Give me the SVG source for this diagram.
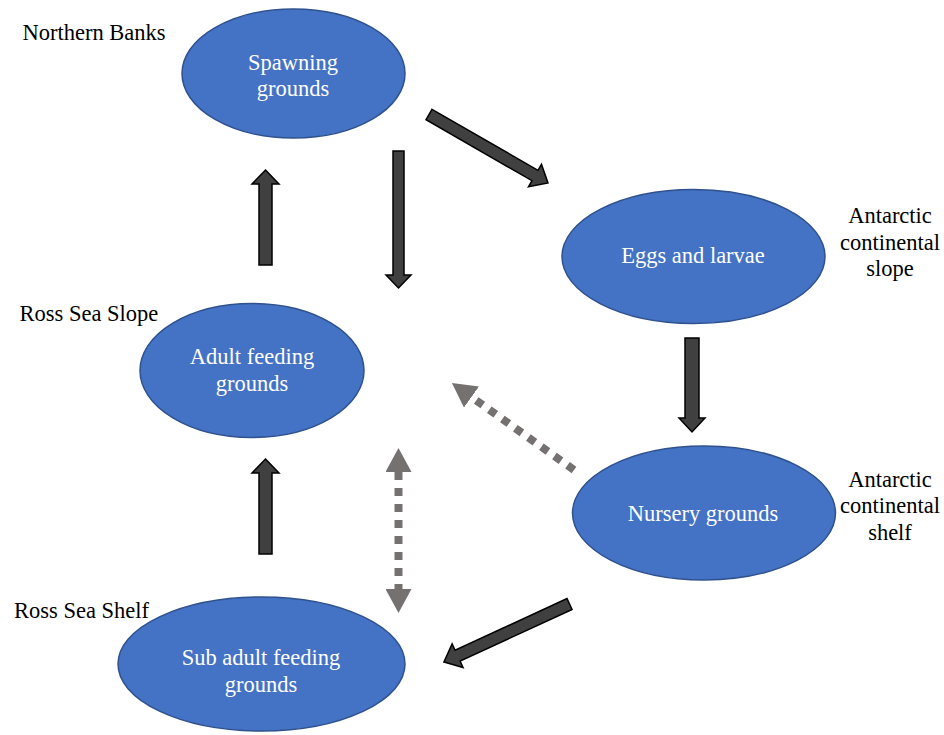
<svg xmlns="http://www.w3.org/2000/svg" width="944" height="735" viewBox="0 0 944 735">
<style>
.node{fill:#4472C4;stroke:#2F528F;stroke-width:1.5}
.nt{font-family:"Liberation Serif","Times New Roman",serif;font-size:22.5px;fill:#FFFFFF;text-anchor:middle}
.lbl{font-family:"Liberation Serif","Times New Roman",serif;font-size:22.5px;fill:#000000}
.blk{fill:#404040;stroke:#000000;stroke-width:1.5;stroke-linejoin:miter}
.dot{stroke:#767171;stroke-width:8;stroke-dasharray:8 8;fill:none}
</style>
<defs>
<marker id="gh" markerUnits="userSpaceOnUse" markerWidth="24" markerHeight="26" viewBox="0 0 24 26" refX="0" refY="13" orient="auto-start-reverse">
<path d="M0,0 L24,13 L0,26 z" fill="#767171"/>
</marker>
</defs>
<rect width="944" height="735" fill="#FFFFFF"/>

<g id="spawning">
<ellipse class="node" cx="293.5" cy="73.5" rx="111.5" ry="64.5"/>
<text class="nt" x="293" y="70">Spawning</text>
<text class="nt" x="293" y="96">grounds</text>
</g>
<g id="eggs">
<ellipse class="node" cx="693.5" cy="256.5" rx="131.5" ry="67"/>
<text class="nt" x="693" y="263">Eggs and larvae</text>
</g>
<g id="adult">
<ellipse class="node" cx="252" cy="370.5" rx="112" ry="67"/>
<text class="nt" x="252" y="364">Adult feeding</text>
<text class="nt" x="252" y="391">grounds</text>
</g>
<g id="nursery">
<ellipse class="node" cx="704" cy="513" rx="131.5" ry="67"/>
<text class="nt" x="703" y="521">Nursery grounds</text>
</g>
<g id="subadult">
<ellipse class="node" cx="261.5" cy="664" rx="143.5" ry="67"/>
<text class="nt" x="261" y="665">Sub adult feeding</text>
<text class="nt" x="261" y="692">grounds</text>
</g>

<g id="labels">
<text class="lbl" x="22.5" y="40">Northern Banks</text>
<text class="lbl" x="19.5" y="321">Ross Sea Slope</text>
<text class="lbl" x="14" y="618">Ross Sea Shelf</text>
<text class="lbl" x="890" y="223" text-anchor="middle">Antarctic</text>
<text class="lbl" x="890" y="250" text-anchor="middle">continental</text>
<text class="lbl" x="890" y="276" text-anchor="middle">slope</text>
<text class="lbl" x="890" y="487" text-anchor="middle">Antarctic</text>
<text class="lbl" x="890" y="513" text-anchor="middle">continental</text>
<text class="lbl" x="890" y="540" text-anchor="middle">shelf</text>
</g>

<g id="connectors">
<polygon class="blk" points="265.5,170 279,184 272,184 272,265 259,265 259,184 252,184"/>
<polygon class="blk" points="393,151 404,151 404,275 411,275 398.5,288 386,275 393,275"/>
<polygon class="blk" points="685,338 699,338 699,418 705,418 692,432 679,418 685,418"/>
<polygon class="blk" points="265.5,459 279,473 272,473 272,554 259,554 259,473 252,473"/>
<polygon class="blk" transform="translate(429,114.5) rotate(29.93)" points="0,-6 122.3,-6 122.3,-13 137.3,0 122.3,13 122.3,6 0,6"/>
<polygon class="blk" transform="translate(569.5,604) rotate(155.2)" points="0,-6 123.3,-6 123.3,-13 138.3,0 123.3,13 123.3,6 0,6"/>
<line class="dot" x1="574" y1="470" x2="471.5" y2="397" marker-end="url(#gh)"/>
<line class="dot" x1="398.5" y1="472" x2="398.5" y2="589" marker-start="url(#gh)" marker-end="url(#gh)"/>
</g>
</svg>
